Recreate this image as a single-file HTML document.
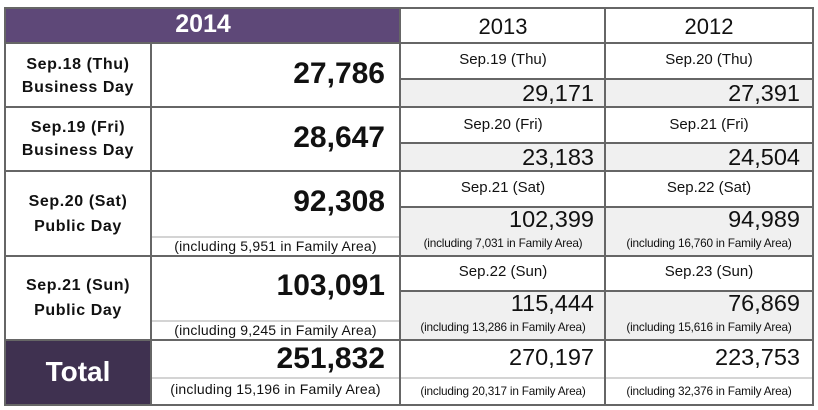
<!DOCTYPE html>
<html><head><style>
body{margin:0;width:818px;height:410px;background:#fff;position:relative;overflow:hidden;font-family:"Liberation Sans",Arial,sans-serif;color:#111}
.c{position:absolute;box-sizing:border-box;}
.g{background:#f0f0f0}
.h{position:absolute;background:#666}
.lt{position:absolute;background:#d4d4d4;height:2px}
.t{position:absolute;white-space:nowrap}
.r{text-align:right}
.ctr{text-align:center}
.lab{font-size:16px;font-weight:bold;letter-spacing:0.6px}
.big{font-size:30px;font-weight:bold}
.num{font-size:23.5px}
.sm{font-size:11.8px;letter-spacing:-0.2px}
.sm2{font-size:14px;letter-spacing:0.2px}
</style></head><body>
<div class="c" style="left:5px;top:8px;width:396px;height:35px;background:#5e4878"></div>
<div class="t ctr" style="left:5px;top:10px;width:396px;font-size:25px;font-weight:bold;color:#fff">2014</div>
<div class="c" style="left:5px;top:340px;width:146px;height:66px;background:#3f3150"></div>
<div class="t ctr" style="left:5px;top:356px;width:146px;font-size:28px;font-weight:bold;color:#fff">Total</div>

<div class="c g" style="left:401px;top:79px;width:411px;height:27px"></div>
<div class="c g" style="left:401px;top:143px;width:411px;height:27px"></div>
<div class="c g" style="left:401px;top:207px;width:411px;height:48px"></div>
<div class="c g" style="left:401px;top:291px;width:411px;height:49px"></div>

<div class="lt" style="left:151px;top:236px;width:249px"></div>
<div class="lt" style="left:151px;top:320px;width:249px"></div>
<div class="lt" style="left:151px;top:377px;width:661px"></div>

<div class="h" style="left:4px;top:7px;width:810px;height:2px"></div>
<div class="h" style="left:4px;top:42px;width:810px;height:2px"></div>
<div class="h" style="left:4px;top:106px;width:810px;height:2px"></div>
<div class="h" style="left:4px;top:170px;width:810px;height:2px"></div>
<div class="h" style="left:4px;top:255px;width:810px;height:2px"></div>
<div class="h" style="left:4px;top:339px;width:810px;height:2px"></div>
<div class="h" style="left:4px;top:404px;width:810px;height:2px"></div>
<div class="h" style="left:401px;top:78px;width:413px;height:2px"></div>
<div class="h" style="left:401px;top:142px;width:413px;height:2px"></div>
<div class="h" style="left:401px;top:206px;width:413px;height:2px"></div>
<div class="h" style="left:401px;top:290px;width:413px;height:2px"></div>
<div class="h" style="left:4px;top:7px;width:2px;height:399px"></div>
<div class="h" style="left:150px;top:43px;width:2px;height:363px"></div>
<div class="h" style="left:399px;top:7px;width:2px;height:399px"></div>
<div class="h" style="left:604px;top:7px;width:2px;height:399px"></div>
<div class="h" style="left:812px;top:7px;width:2px;height:399px"></div>

<div class="t ctr" style="left:401px;top:14px;width:204px;font-size:22px">2013</div>
<div class="t ctr" style="left:606px;top:14px;width:206px;font-size:22px">2012</div>

<div class="t ctr lab" style="left:5px;top:53px;width:146px;line-height:23px">Sep.18 (Thu)<br>Business Day</div>
<div class="t ctr lab" style="left:5px;top:116px;width:146px;line-height:23px">Sep.19 (Fri)<br>Business Day</div>
<div class="t ctr lab" style="left:5px;top:189px;width:146px;line-height:25px">Sep.20 (Sat)<br>Public Day</div>
<div class="t ctr lab" style="left:5px;top:273px;width:146px;line-height:25px">Sep.21 (Sun)<br>Public Day</div>

<div class="t r big" style="left:151px;top:57px;width:234px">27,786</div>
<div class="t r big" style="left:151px;top:121px;width:234px">28,647</div>
<div class="t r big" style="left:151px;top:185px;width:234px">92,308</div>
<div class="t ctr sm2" style="left:151px;top:238px;width:249px">(including 5,951 in Family Area)</div>
<div class="t r big" style="left:151px;top:269px;width:234px">103,091</div>
<div class="t ctr sm2" style="left:151px;top:322px;width:249px">(including 9,245 in Family Area)</div>
<div class="t r big" style="left:151px;top:342px;width:234px">251,832</div>
<div class="t ctr sm2" style="left:151px;top:381px;width:249px">(including 15,196 in Family Area)</div>

<div class="t ctr" style="left:401px;top:51px;width:204px;font-size:15px">Sep.19 (Thu)</div>
<div class="t ctr" style="left:606px;top:51px;width:206px;font-size:15px">Sep.20 (Thu)</div>
<div class="t r num" style="left:401px;top:80px;width:193px">29,171</div>
<div class="t r num" style="left:606px;top:80px;width:194px">27,391</div>

<div class="t ctr" style="left:401px;top:116px;width:204px;font-size:15px">Sep.20 (Fri)</div>
<div class="t ctr" style="left:606px;top:116px;width:206px;font-size:15px">Sep.21 (Fri)</div>
<div class="t r num" style="left:401px;top:144px;width:193px">23,183</div>
<div class="t r num" style="left:606px;top:144px;width:194px">24,504</div>

<div class="t ctr" style="left:401px;top:179px;width:204px;font-size:15px">Sep.21 (Sat)</div>
<div class="t ctr" style="left:606px;top:179px;width:206px;font-size:15px">Sep.22 (Sat)</div>
<div class="t r num" style="left:401px;top:206px;width:193px">102,399</div>
<div class="t r num" style="left:606px;top:206px;width:194px">94,989</div>
<div class="t ctr sm" style="left:401px;top:236px;width:204px">(including 7,031 in Family Area)</div>
<div class="t ctr sm" style="left:606px;top:236px;width:206px">(including 16,760 in Family Area)</div>

<div class="t ctr" style="left:401px;top:263px;width:204px;font-size:15px">Sep.22 (Sun)</div>
<div class="t ctr" style="left:606px;top:263px;width:206px;font-size:15px">Sep.23 (Sun)</div>
<div class="t r num" style="left:401px;top:290px;width:193px">115,444</div>
<div class="t r num" style="left:606px;top:290px;width:194px">76,869</div>
<div class="t ctr sm" style="left:401px;top:320px;width:204px">(including 13,286 in Family Area)</div>
<div class="t ctr sm" style="left:606px;top:320px;width:206px">(including 15,616 in Family Area)</div>

<div class="t r num" style="left:401px;top:344px;width:193px">270,197</div>
<div class="t r num" style="left:606px;top:344px;width:194px">223,753</div>
<div class="t ctr sm" style="left:401px;top:384px;width:204px">(including 20,317 in Family Area)</div>
<div class="t ctr sm" style="left:606px;top:384px;width:206px">(including 32,376 in Family Area)</div>
</body></html>
